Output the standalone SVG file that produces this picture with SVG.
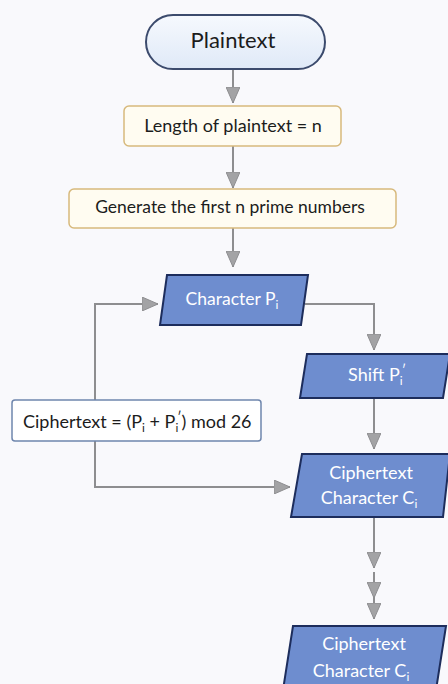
<svg xmlns="http://www.w3.org/2000/svg" width="448" height="684" viewBox="0 0 448 684">
  <defs>
    <linearGradient id="pillFill" x1="0" y1="0" x2="0" y2="1">
      <stop offset="0" stop-color="#f6f9fe"/>
      <stop offset="1" stop-color="#dfe9f7"/>
    </linearGradient>
    <!-- grey triangular arrowhead, pointing along the path -->
    <marker id="arrow" viewBox="0 0 16 14" refX="16" refY="7" markerWidth="16" markerHeight="14" markerUnits="userSpaceOnUse" orient="auto">
      <path d="M0,0 L16,7 L0,14 Z" fill="#a3a3a5" stroke="#8e8e90" stroke-width="1"/>
    </marker>
    <style>
      text { font-family: "Lato", "Open Sans", "Liberation Sans", sans-serif; }
      .dark { fill: #1c1c1c; }
      .light { fill: #ffffff; }
      .cream { fill: #fffcf1; stroke: #d7b97c; stroke-width: 1.5; }
      .para { fill: #6e8dcf; stroke: #1d2d5c; stroke-width: 2; }
      .wire { fill: none; stroke: #8e8e90; stroke-width: 2; }
    </style>
  </defs>

  <rect width="448" height="684" fill="#f9f9fc"/>

  <!-- connectors -->
  <g id="connectors">
    <path class="wire" d="M233,69 V103" marker-end="url(#arrow)"/>
    <path class="wire" d="M233,146 V188" marker-end="url(#arrow)"/>
    <path class="wire" d="M233,228 V267" marker-end="url(#arrow)"/>
    <path class="wire" d="M305,304 H374 V350" marker-end="url(#arrow)"/>
    <path class="wire" d="M374,398 V449" marker-end="url(#arrow)"/>
    <path class="wire" d="M95,400 V304 H158" marker-end="url(#arrow)"/>
    <path class="wire" d="M95,441 V487 H290" marker-end="url(#arrow)"/>
    <path class="wire" d="M374,517 V568" marker-end="url(#arrow)"/>
    <path class="wire" d="M374,572 V598" marker-end="url(#arrow)"/>
    <path class="wire" d="M374,598 V619" marker-end="url(#arrow)"/>
  </g>

  <g id="plaintext">
    <rect x="146" y="15" width="179" height="54" rx="27" ry="27" fill="url(#pillFill)" stroke="#3c4b6d" stroke-width="2"/>
    <text x="233" y="48" font-size="22" text-anchor="middle" class="dark">Plaintext</text>
  </g>

  <g id="length">
    <rect class="cream" x="124" y="106" width="217" height="40" rx="5"/>
    <text x="233" y="132" font-size="18" text-anchor="middle" class="dark">Length of plaintext = n</text>
  </g>

  <g id="primes">
    <rect class="cream" x="69" y="189" width="327" height="39" rx="5"/>
    <text x="230" y="213" font-size="17.5" text-anchor="middle" class="dark">Generate the first n prime numbers</text>
  </g>

  <g id="char-p">
    <polygon class="para" points="167,275 308,275 301,325 160,325"/>
    <text x="232" y="305" font-size="17.5" text-anchor="middle" class="light">Character P<tspan font-size="12" dy="4">i</tspan></text>
  </g>

  <g id="shift">
    <polygon class="para" points="307,354 450,354 443,398 300,398"/>
    <text x="377" y="381" font-size="18" text-anchor="middle" class="light">Shift P<tspan font-size="12" dy="4">i</tspan><tspan font-size="13" dx="-1" dy="-10">′</tspan></text>
  </g>

  <g id="formula">
    <rect x="12" y="400" width="249" height="41" rx="3" fill="#ffffff" stroke="#6f86ad" stroke-width="1.5"/>
    <text x="23" y="428" font-size="18" class="dark">Ciphertext = (P<tspan font-size="12" dy="4">i</tspan><tspan dy="-4"> + P</tspan><tspan font-size="12" dy="4">i</tspan><tspan font-size="13" dx="-1" dy="-10">′</tspan><tspan dy="6">) mod 26</tspan></text>
  </g>

  <g id="cipher-char">
    <polygon class="para" points="302,454 450,454 443,517 291,517"/>
    <text x="371" y="479" font-size="18" text-anchor="middle" class="light">Ciphertext</text>
    <text x="369" y="504" font-size="18" text-anchor="middle" class="light">Character C<tspan font-size="12" dy="4">i</tspan></text>
  </g>

  <g id="cipher-char-out">
    <polygon class="para" points="293,626 446,626 436,690 283,690"/>
    <text x="364" y="650" font-size="18" text-anchor="middle" class="light">Ciphertext</text>
    <text x="361" y="677" font-size="18" text-anchor="middle" class="light">Character C<tspan font-size="12" dy="4">i</tspan></text>
  </g>
</svg>
